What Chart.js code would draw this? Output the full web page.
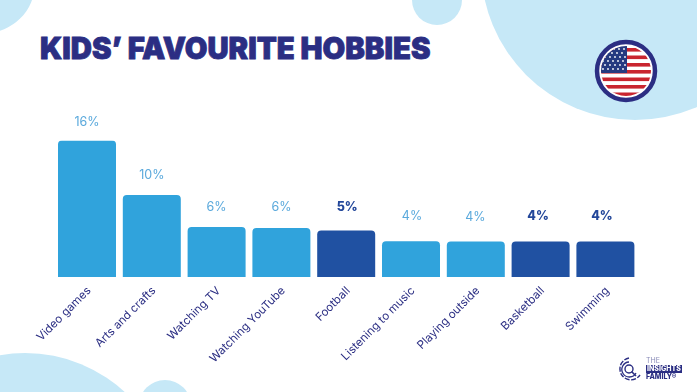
<!DOCTYPE html>
<html>
<head>
<meta charset="utf-8">
<script src="https://cdn.jsdelivr.net/npm/chart.js@4"></script>
<style>
  html, body { margin: 0; padding: 0; background: #fff; }
  #page { position: relative; width: 697px; height: 392px; overflow: hidden; font-family: Inter, sans-serif; }
  .blob { position: absolute; border-radius: 50%; background: #c6e8f7; }
  #title { position: absolute; left: 40px; top: 31px; margin: 0; font: 900 29.3px/36px Inter, sans-serif; color: #2b2e83; white-space: nowrap; -webkit-text-stroke: 0.8px #2b2e83; }
  #chartBox { position: absolute; left: 0; top: 0; width: 697px; height: 392px; }
  #flag { position: absolute; left: 594px; top: 39px; }
  #logoMark { position: absolute; left: 616px; top: 356px; }
  .logoText { position: absolute; left: 646px; font-size: 7px; line-height: 8px; font-weight: 800; color: #2b2e83; white-space: nowrap; }
</style>
</head>
<body>
<div id="page">
  <div class="blob" style="left:481px;top:-188px;width:308px;height:308px"></div>
  <div class="blob" style="left:-65px;top:-67px;width:100px;height:100px"></div>
  <div class="blob" style="left:412px;top:-25px;width:50px;height:50px"></div>
  <div class="blob" style="left:-122px;top:353px;width:294px;height:294px"></div>
  <div class="blob" style="left:139px;top:380px;width:52px;height:52px"></div>

  <h1 id="title">KIDS’ FAVOURITE HOBBIES</h1>

  <div id="chartBox"><canvas id="hobbiesChart" width="697" height="392"></canvas></div>

  <svg id="flag" width="64" height="64" viewBox="0 0 64 64">
    <defs><clipPath id="inner"><circle cx="32" cy="32" r="25"/></clipPath></defs>
    <circle cx="32" cy="32" r="29" fill="#fff" stroke="#2b2e83" stroke-width="4.5"/>
    <g clip-path="url(#inner)">
      <g fill="#c9252f">
        <rect x="0" y="9" width="64" height="3.6"/>
        <rect x="0" y="16.5" width="64" height="3.6"/>
        <rect x="0" y="24" width="64" height="3.6"/>
        <rect x="0" y="31" width="64" height="3.6"/>
        <rect x="0" y="38.5" width="64" height="3.6"/>
        <rect x="0" y="46" width="64" height="3.6"/>
        <rect x="0" y="53.5" width="64" height="3.6"/>
      </g>
      <rect x="0" y="7" width="33" height="27" fill="#263a80"/>
      <g fill="#fff">
        <circle cx="20" cy="10" r=".9"/><circle cx="25" cy="10" r=".9"/><circle cx="30" cy="10" r=".9"/>
        <circle cx="13" cy="14" r=".9"/><circle cx="18" cy="14" r=".9"/><circle cx="23" cy="14" r=".9"/><circle cx="28" cy="14" r=".9"/>
        <circle cx="11" cy="18" r=".9"/><circle cx="16" cy="18" r=".9"/><circle cx="21" cy="18" r=".9"/><circle cx="26" cy="18" r=".9"/><circle cx="31" cy="18" r=".9"/>
        <circle cx="9" cy="22" r=".9"/><circle cx="14" cy="22" r=".9"/><circle cx="19" cy="22" r=".9"/><circle cx="24" cy="22" r=".9"/><circle cx="29" cy="22" r=".9"/>
        <circle cx="11" cy="26" r=".9"/><circle cx="16" cy="26" r=".9"/><circle cx="21" cy="26" r=".9"/><circle cx="26" cy="26" r=".9"/><circle cx="31" cy="26" r=".9"/>
        <circle cx="9" cy="30" r=".9"/><circle cx="14" cy="30" r=".9"/><circle cx="19" cy="30" r=".9"/><circle cx="24" cy="30" r=".9"/><circle cx="29" cy="30" r=".9"/>
      </g>
    </g>
  </svg>

  <svg id="logoMark" width="26" height="26" viewBox="0 0 26 26" fill="none" stroke="#2b2e83">
    <path d="M13 2 A11 11 0 1 0 24 19" stroke-width="1.4" stroke-dasharray="5 1.5"/>
    <path d="M13 6 A7.5 7.5 0 1 0 20 17" stroke-width="1.3"/>
    <circle cx="13" cy="13" r="4" stroke-width="1.4"/>
    <path d="M15.5 15.5 L20 20" stroke-width="1.6"/>
  </svg>
  <div class="logoText" style="top:357px;font-weight:400;color:#8a8cb8">THE</div>
  <div class="logoText" style="top:365px;background:#2b2e83;color:#fff;padding:0 1px">INSIGHTS</div>
  <div class="logoText" style="top:373px">FAMILY®</div>
</div>

<script>
const categories = ['Video games', 'Arts and crafts', 'Watching TV', 'Watching YouTube', 'Football',
  'Listening to music', 'Playing outside', 'Basketball', 'Swimming'];
const shares = [16, 9.6, 5.85, 5.75, 5.45, 4.2, 4.15, 4.15, 4.15];
const shareLabels = ['16%', '10%', '6%', '6%', '5%', '4%', '4%', '4%', '4%'];
const highlighted = [false, false, false, false, true, false, false, true, true];

// the printed labels don't sit at a fixed spot over the bars
const labelLift = [18.5, 19.5, 19.5, 20.5, 23, 24.5, 24.5, 25, 25];
const labelShift = [0, 0, 0, 0, 1, 1, -0.5, -2.5, -3.5];

const barColors = highlighted.map(h => h ? '#2051a2' : '#30a3dc');

const valueLabels = {
  id: 'valueLabels',
  afterDatasetsDraw(chart) {
    const ctx = chart.ctx;
    ctx.save();
    ctx.textAlign = 'center';
    ctx.textBaseline = 'middle';
    chart.getDatasetMeta(0).data.forEach((bar, i) => {
      ctx.font = (highlighted[i] ? '800' : '400') + ' 12.5px Inter, sans-serif';
      ctx.fillStyle = highlighted[i] ? '#23479a' : '#5aa9dc';
      ctx.fillText(shareLabels[i], bar.x + labelShift[i], bar.y - labelLift[i]);
    });
    ctx.restore();
  }
};

new Chart(document.getElementById('hobbiesChart').getContext('2d'), {
  type: 'bar',
  data: {
    labels: categories,
    datasets: [{
      data: shares,
      backgroundColor: barColors,
      borderRadius: { topLeft: 4, topRight: 4 },
      borderSkipped: 'bottom',
      categoryPercentage: 1,
      barPercentage: 0.895
    }]
  },
  plugins: [valueLabels],
  options: {
    responsive: false,
    animation: false,
    layout: { padding: { left: 54.6, right: 59.2, top: 140.5 } },
    plugins: { legend: { display: false }, tooltip: { enabled: false } },
    scales: {
      x: {
        afterFit(scale) { scale.height = 115; },
        grid: { display: false, drawTicks: false },
        border: { display: false },
        ticks: {
          autoSkip: false,
          minRotation: 45,
          maxRotation: 45,
          padding: 7,
          labelOffset: 2,
          color: '#2b2e83',
          font: { family: 'Inter, sans-serif', size: 11.5 }
        }
      },
      y: { display: false, min: 0, max: 16 }
    }
  }
});
</script>
</body>
</html>
